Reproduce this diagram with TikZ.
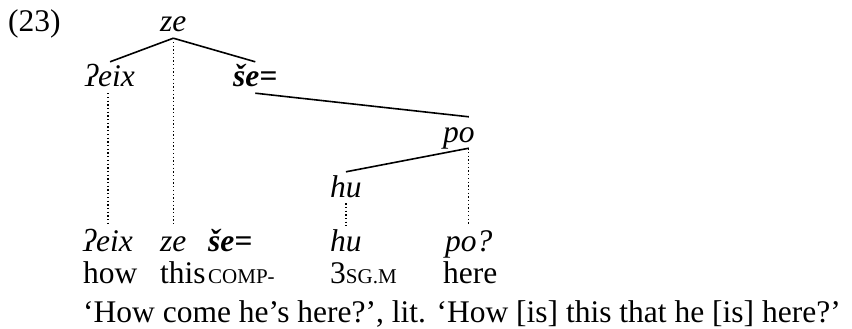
\documentclass[tikz,border=0pt]{standalone}
\usepackage{fontspec}
\setmainfont{Liberation Serif}
\usepackage{tikz}
% fake small caps for the gloss labels
\newcommand{\glsc}[1]{{\fontsize{21}{25}\selectfont #1}}

\begin{document}
\begin{tikzpicture}[x=1pt,y=-1pt,
    every node/.style={font=\fontsize{31.5}{36}\selectfont, inner sep=0pt},
    tree/.style={anchor=base west, text height=19pt, text depth=0pt, inner ysep=6pt},
    word/.style={anchor=base west},
    branch/.style={line width=1.6pt},
    assoc/.style={line width=1.3pt, dash pattern=on 1.3pt off 2.4pt}]
  \useasboundingbox (0,0) rectangle (852,329);

  % Example number
  \node[word] (exno) at (8,32) {(23)};

  % Tree
  \node[tree] (zeT) at (160,32) {\textit{ze}};
  \node[tree] (eixT) at (85,87) {\textit{ʔeix}};
  \node[tree] (seT) at (233,87) {\textbf{\textit{še=}}};
  \node[tree] (poT) at (443,142) {\textit{po}};
  \node[tree] (huT) at (330,197) {\textit{hu}};

  % Words
  \node[tree] (eix) at (83,251) {\textit{ʔeix}};
  \node[tree] (ze) at (160,251) {\textit{ze}};
  \node[tree] (se) at (208,251) {\textbf{\textit{še=}}};
  \node[tree] (hu) at (330,251) {\textit{hu}};
  \node[tree] (po) at (445,251) {\textit{po?}};

  % Glosses
  \node[word] (g1) at (83,283) {how};
  \node[word] (g2) at (160,283) {this};
  \node[word] (g3) at (208,283) {\glsc{COMP-}};
  \node[word] (g4) at (330,283) {3\glsc{SG.M}};
  \node[word] (g5) at (443,283) {here};

  % Translation
  \node[word] (tr) at (83,322) {‘How come he’s here?’, lit. ‘How [is] this that he [is] here?’};

  % Branches
  \draw[branch] (zeT.south) -- (eixT.north);
  \draw[branch] (zeT.south) -- (seT.north);
  \draw[branch] (seT.south) -- (poT.north -| po.north);
  \draw[branch] (poT.south -| po.north) -- (huT.north);

  % Association lines
  \draw[assoc] (eixT.south -| eix.north) -- (eix.north);
  \draw[assoc] (zeT.south) -- (ze.north);
  \draw[assoc] (huT.south) -- (hu.north);
  \draw[assoc] (poT.south -| po.north) -- (po.north);
\end{tikzpicture}
\end{document}
